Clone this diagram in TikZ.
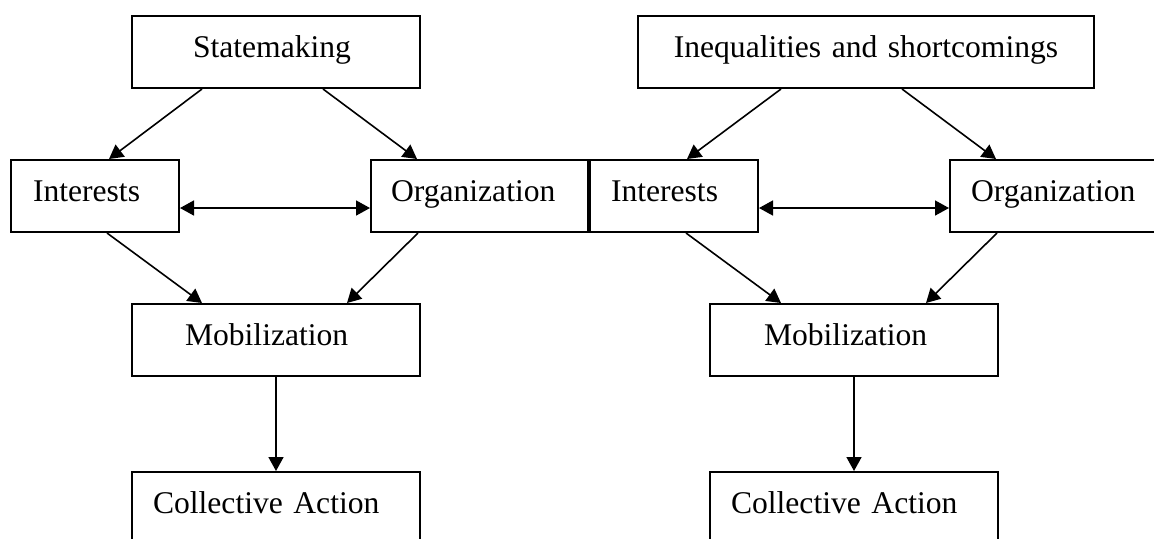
\documentclass[tikz,border=0pt]{standalone}
\usepackage{fontspec}
\setmainfont{Liberation Serif}
\usetikzlibrary{arrows.meta}
\begin{document}
\begin{tikzpicture}[x=0.5pt,y=-0.5pt,
  box/.style={draw,line width=1pt,rectangle,anchor=north west,inner xsep=0pt,inner ysep=0pt,
    align=left,text height=20.5pt,text depth=15.5pt,font=\fontsize{15.8}{19}\selectfont},
  tip/.style={Triangle[length=7pt,width=7.5pt]},
  arr/.style={line width=0.8pt,-{Triangle[length=7pt,width=7.5pt]}},
  arrtwo/.style={line width=0.8pt,{Triangle[length=7pt,width=7.5pt]}-{Triangle[length=7pt,width=7.5pt]}}]
\useasboundingbox (0,0) rectangle (1154,538);
\clip (0,0) rectangle (1154,538);
% left diagram
\node[box,text width=144pt] (S) at (131,15) {\hspace*{30.5pt}Statemaking};
\node[box,text width=84pt] (IL) at (10,159) {\hspace*{11pt}Interests};
\node[box,text width=108.5pt] (OL) at (370,159) {\hspace*{10pt}Organization};
\node[box,text width=144pt] (ML) at (131,303) {\hspace*{26.5pt}Mobilization};
\node[box,text width=144pt] (CL) at (131,471) {\hspace*{10.5pt}Collective Action};
% right diagram
\node[box,text width=228pt,align=center] (Q) at (637,15) {Inequalities and shortcomings};
\node[box,text width=84pt] (IR) at (589,159) {\hspace*{10.5pt}Interests};
\node[box,text width=108.5pt] (OR) at (949,159) {\hspace*{10.5pt}Organization};
\node[box,text width=144pt] (MR) at (709,303) {\hspace*{27pt}Mobilization};
\node[box,text width=144pt] (CR) at (709,471) {\hspace*{10.5pt}Collective Action};
% left arrows
\draw[arr] ([xshift=35.5pt]S.south west) -- ([xshift=49.5pt]IL.north west);
\draw[arr] ([xshift=96pt]S.south west) -- ([xshift=23.5pt]OL.north west);
\draw[arrtwo] ([yshift=-6pt]IL.east) -- ([yshift=-6pt]OL.west);
\draw[arr] ([xshift=48.5pt]IL.south west) -- ([xshift=35.5pt]ML.north west);
\draw[arr] ([xshift=24pt]OL.south west) -- ([xshift=108pt]ML.north west);
\draw[arr] (ML.south) -- (CL.north);
% right arrows
\draw[arr] ([xshift=72pt]Q.south west) -- ([xshift=49pt]IR.north west);
\draw[arr] ([xshift=132.5pt]Q.south west) -- ([xshift=23.5pt]OR.north west);
\draw[arrtwo] ([yshift=-6pt]IR.east) -- ([yshift=-6pt]OR.west);
\draw[arr] ([xshift=48.5pt]IR.south west) -- ([xshift=36pt]MR.north west);
\draw[arr] ([xshift=24pt]OR.south west) -- ([xshift=108.5pt]MR.north west);
\draw[arr] (MR.south) -- (CR.north);
\end{tikzpicture}
\end{document}
